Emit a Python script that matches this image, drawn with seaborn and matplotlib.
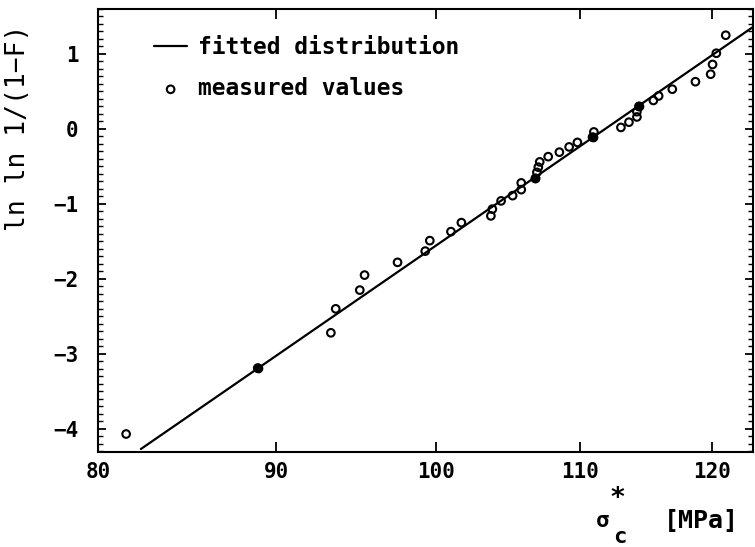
import numpy as np
import pandas as pd
import matplotlib
matplotlib.use("Agg")
import matplotlib.pyplot as plt
import seaborn as sns
from matplotlib.ticker import FixedLocator, MultipleLocator, NullLocator, FixedFormatter

# ---- data ----
strength = [81.5, 88.9, 93.3, 93.6, 95.1, 95.4, 97.5, 99.3, 99.6, 101.0,
            101.7, 103.7, 103.8, 104.4, 105.2, 105.8, 105.8, 106.8, 106.9, 107.0,
            107.1, 107.7, 108.5, 109.2, 109.8, 110.9, 111.0, 113.0, 113.6, 114.2,
            114.2, 114.35, 115.45, 115.85, 116.9, 118.7, 119.9, 120.05, 120.35, 121.1]
lnln = [-4.07, -3.19, -2.72, -2.40, -2.15, -1.95, -1.78, -1.63, -1.49, -1.37,
        -1.25, -1.16, -1.07, -0.96, -0.89, -0.81, -0.72, -0.66, -0.58, -0.51,
        -0.44, -0.37, -0.31, -0.24, -0.18, -0.11, -0.04, 0.02, 0.09, 0.16,
        0.23, 0.30, 0.38, 0.44, 0.53, 0.63, 0.73, 0.86, 1.01, 1.25]
solid = [False, True, False, False, False, False, False, False, False, False,
         False, False, False, False, False, False, False, True, False, False,
         False, False, False, False, False, True, False, False, False, False,
         False, True, False, False, False, False, False, False, False, False]

fit_x = [82.3, 123.3]
fit_y = [-4.27, 1.36]

xticks = [80, 90, 100, 110, 120]
xtick_labels = ["80", "90", "100", "110", "120"]
yticks = [-4, -3, -2, -1, 0, 1]
ytick_labels = ["\u22124", "\u22123", "\u22122", "\u22121", "0", "1"]

legend_labels = ["fitted distribution", "measured values"]
ylabel = "ln ln 1/(1\u2212F)"

# ---- style ----
sns.set_style("ticks")
FONT = ["DejaVu Sans Mono", "DejaVu Sans"]
plt.rcParams["font.family"] = FONT
plt.rcParams["font.weight"] = "bold"
plt.rcParams["text.color"] = "black"
plt.rcParams["xtick.color"] = "black"
plt.rcParams["ytick.color"] = "black"
plt.rcParams["axes.linewidth"] = 1.5

W, H = 755, 547
fig = plt.figure(figsize=(W / 100, H / 100), dpi=100)
left, right, bottom, top = 98, 753, 452, 9
ax = fig.add_axes([left / W, 1 - bottom / H, (right - left) / W, (bottom - top) / H])

df = pd.DataFrame({"strength": strength, "lnln": lnln, "solid": solid})
fit_df = pd.DataFrame({"x": fit_x, "y": fit_y})

sns.lineplot(data=fit_df, x="x", y="y", ax=ax, color="black", linewidth=1.6,
             label=legend_labels[0])
sns.scatterplot(data=df, x="strength", y="lnln", ax=ax, marker="o", s=30,
                facecolor="none", edgecolor="black", linewidth=1.5,
                label=legend_labels[1])
ax.collections[-1].set_facecolor("none")
sdf = df[df["solid"]]
sns.scatterplot(data=sdf, x="strength", y="lnln", ax=ax, marker="o", s=30,
                color="black", edgecolor="black", linewidth=1.5, legend=False)

ax.set_xscale("log")
ax.set_xlim(80, 123.3)
ax.set_ylim(-4.31, 1.6)
ax.xaxis.set_major_locator(FixedLocator(xticks))
ax.xaxis.set_major_formatter(FixedFormatter(xtick_labels))
ax.xaxis.set_minor_locator(NullLocator())
ax.yaxis.set_major_locator(FixedLocator(yticks))
ax.yaxis.set_major_formatter(FixedFormatter(ytick_labels))
ax.yaxis.set_minor_locator(MultipleLocator(0.1))

ax.tick_params(axis="both", which="both", direction="in", top=True, right=True,
               colors="black", labelsize=15)
ax.tick_params(axis="x", which="major", length=7, width=1.3, pad=7)
ax.tick_params(axis="y", which="major", length=6, width=1.3, pad=14)
ax.tick_params(axis="y", which="minor", length=3.5, width=1.0)
for lab in ax.get_xticklabels() + ax.get_yticklabels():
    lab.set_fontweight("bold")

ax.set_xlabel("")
ax.set_ylabel("")
for s in ax.spines.values():
    s.set_color("black")
    s.set_linewidth(1.5)

leg = ax.legend(loc="upper left", bbox_to_anchor=((154 - left) / (right - left),
                                                   (bottom - 36) / (bottom - top)),
                frameon=False, borderpad=0, borderaxespad=0,
                handlelength=1.45, handletextpad=0.45, labelspacing=0.8,
                prop={"family": FONT, "weight": "bold", "size": 16.5})
for t in leg.get_texts():
    t.set_color("black")

# y label
fig.text(18 / W, 1 - 128 / H, ylabel, rotation=90, ha="center", va="center",
         fontsize=19, fontweight="normal", family=FONT, color="black")

# x label: sigma*_c [MPa]
fig.text(603 / W, 1 - 521 / H, "\u03c3", ha="center", va="center",
         fontsize=16, fontweight="bold", family=FONT, color="black")
fig.text(617 / W, 1 - 499 / H, "*", ha="center", va="center",
         fontsize=19, fontweight="bold", family=FONT, color="black")
fig.text(620 / W, 1 - 537 / H, "c", ha="center", va="center",
         fontsize=16, fontweight="bold", family=FONT, color="black")
fig.text(701 / W, 1 - 521 / H, "[MPa]", ha="center", va="center",
         fontsize=18, fontweight="bold", family=FONT, color="black")

fig.savefig("out.png", dpi=100)
